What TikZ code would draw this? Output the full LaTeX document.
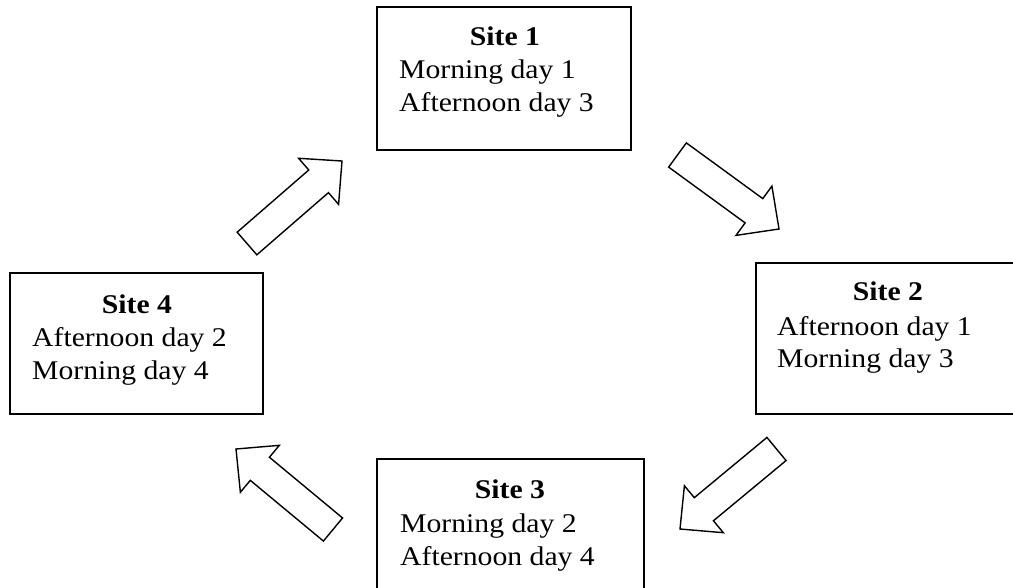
\documentclass[tikz,border=0pt]{standalone}
\usepackage{fontspec}
\setmainfont{Liberation Serif}[FakeStretch=1.1]
\usetikzlibrary{calc}
\tikzset{
  box/.style={draw, line width=1.6pt, rectangle, inner sep=0pt},
  txt/.style={anchor=base west, inner sep=0pt, font=\fontsize{27}{32}\selectfont},
  ttl/.style={anchor=base, inner sep=0pt, font=\fontsize{27}{32}\selectfont\bfseries},
  barrow/.style={draw, fill=white, line width=1.4pt, line join=miter}
}
\newcommand\blockarrow[2]{%
  \coordinate (hb) at ($(#2)!31pt!(#1)$);
  \draw[barrow] ($(#1)!15pt!90:(#2)$) -- ($(hb)!15pt!90:(#2)$) -- ($(hb)!30.5pt!90:(#2)$) -- (#2)
    -- ($(hb)!30.5pt!-90:(#2)$) -- ($(hb)!15pt!-90:(#2)$) -- ($(#1)!15pt!-90:(#2)$) -- cycle;}
\begin{document}
\begin{tikzpicture}[x=1pt,y=-1pt]
\useasboundingbox (0,0) rectangle (1013,587);
% boxes
\node[box, minimum width=254pt, minimum height=143pt] (s1) at (504,78.5) {};
\node[box, minimum width=274pt, minimum height=151pt] (s2) at (893,338.5) {};
\node[box, minimum width=267pt, minimum height=141pt] (s3) at (510.5,529.5) {};
\node[box, minimum width=253pt, minimum height=141pt] (s4) at (136.5,343.5) {};
% texts
\node[ttl] (t1) at (505,45) {Site 1};
\node[txt] (t1a) at (399,78) {Morning day 1};
\node[txt] (t1b) at (399,111) {Afternoon day 3};
\node[ttl] (t2) at (888,300) {Site 2};
\node[txt] (t2a) at (777,335) {Afternoon day 1};
\node[txt] (t2b) at (777,367) {Morning day 3};
\node[ttl] (t3) at (510,498) {Site 3};
\node[txt] (t3a) at (400,532) {Morning day 2};
\node[txt] (t3b) at (400,565) {Afternoon day 4};
\node[ttl] (t4) at (137,313) {Site 4};
\node[txt] (t4a) at (32,346) {Afternoon day 2};
\node[txt] (t4b) at (32,379) {Morning day 4};
% arrows
\coordinate (a1s) at (247,243.5); \coordinate (a1e) at (342,161);
\coordinate (a2s) at (677.5,155); \coordinate (a2e) at (779,229);
\coordinate (a3s) at (776.5,449); \coordinate (a3e) at (680,529);
\coordinate (a4s) at (333,529.5); \coordinate (a4e) at (236,449);
\blockarrow{a1s}{a1e}
\blockarrow{a2s}{a2e}
\blockarrow{a3s}{a3e}
\blockarrow{a4s}{a4e}
\end{tikzpicture}
\end{document}
